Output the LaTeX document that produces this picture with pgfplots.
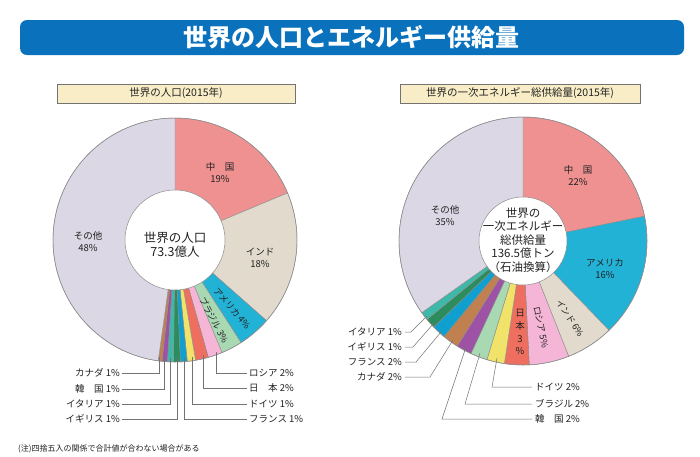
\documentclass[border=0pt]{standalone}
\usepackage{pgfplots}
\pgfplotsset{compat=1.18}
\usepackage{pgfplotstable}
\usepackage{fontspec}
\setmainfont{Noto Sans CJK JP}

\definecolor{cChina}{HTML}{F09191}
\definecolor{cIndia}{HTML}{E2DBCD}
\definecolor{cUSA}{HTML}{22B2D6}
\definecolor{cBrazil}{HTML}{A9D9B3}
\definecolor{cRussia}{HTML}{F5B5D6}
\definecolor{cJapan}{HTML}{EE6F5F}
\definecolor{cGermany}{HTML}{F1E26A}
\definecolor{cFrance}{HTML}{0FA0D0}
\definecolor{cUK}{HTML}{2C8C5E}
\definecolor{cItaly}{HTML}{3DB9A9}
\definecolor{cKorea}{HTML}{9E52A6}
\definecolor{cCanada}{HTML}{C0804F}
\definecolor{cOther}{HTML}{DCD7E5}
\definecolor{cBanner}{HTML}{0A72BD}
\definecolor{cBox}{HTML}{F8EDC6}
\definecolor{cText}{HTML}{222222}

% population share 2015 (%), clockwise from top
\pgfplotstableread{
value color
18.7 cChina
17.8 cIndia
4.4 cUSA
2.8 cBrazil
1.9 cRussia
1.7 cJapan
1.1 cGermany
0.9 cFrance
0.9 cUK
0.8 cItaly
0.7 cKorea
0.5 cCanada
47.8 cOther
}\poptable

% primary energy supply share 2015 (%), clockwise from top
\pgfplotstableread{
value color
21.8 cChina
16.0 cUSA
6.2 cIndia
5.2 cRussia
3.2 cJapan
2.3 cGermany
2.2 cBrazil
2.0 cKorea
2.1 cCanada
1.8 cFrance
1.3 cUK
1.1 cItaly
34.8 cOther
}\energytable

\newcommand\donut[5]{%
  \pgfplotstablegetrowsof{#1}%
  \pgfmathtruncatemacro\lastrow{\pgfplotsretval-1}%
  \gdef\startang{90}%
  \foreach \i in {0,...,\lastrow}{%
    \pgfplotstablegetelem{\i}{value}\of{#1}\let\val\pgfplotsretval
    \pgfplotstablegetelem{\i}{color}\of{#1}\let\col\pgfplotsretval
    \pgfmathsetmacro\endang{\startang-3.6*\val}%
    \filldraw[fill=\col, draw=black!45, line width=0.4pt] (axis cs:#2,#3) -- ++(\startang:#4pt) arc[start angle=\startang, end angle=\endang, radius=#4pt] -- cycle;
    \xdef\startang{\endang}%
  }%
  \draw[black!45, line width=0.5pt] (axis cs:#2,#3) circle[radius=#4pt];
  \filldraw[fill=white, draw=black!45, line width=0.5pt] (axis cs:#2,#3) circle[radius=#5pt];
}

\begin{document}
\begin{tikzpicture}
\begin{axis}[x=1pt, y=1pt, y dir=reverse, xmin=0, xmax=700, ymin=0, ymax=456,
  hide axis, clip=false, scale only axis]
\pgfplotsextra{
  \fill[white] (axis cs:0,0) rectangle (axis cs:700,456);
  % banner
  \fill[cBanner, rounded corners=7pt] (axis cs:20,20) rectangle (axis cs:684,55);
  \node[text=white, font=\fontsize{24}{27}\selectfont\bfseries] at (axis cs:351,37.5) {世界の人口とエネルギー供給量};
  % sub titles
  \filldraw[fill=cBox, draw=black!55, line width=0.6pt] (axis cs:57,84) rectangle (axis cs:295,103);
  \node[text=cText, font=\fontsize{10.5}{12}\selectfont] at (axis cs:176,93.5) {世界の人口(2015年)};
  \filldraw[fill=cBox, draw=black!55, line width=0.6pt] (axis cs:400,84) rectangle (axis cs:640,103);
  \node[text=cText, font=\fontsize{10.5}{12}\selectfont] at (axis cs:520,93.5) {世界の一次エネルギー総供給量(2015年)};
  % donuts
  \donut{\poptable}{175}{240}{122}{50}
  \donut{\energytable}{523}{241}{124}{44}
  % footnote
  \node[anchor=west, inner sep=0pt, text=cText, font=\fontsize{8}{10}\selectfont] at (axis cs:18,449) {(注)四捨五入の関係で合計値が合わない場合がある};
}
% ---------- left pie labels
\pgfplotsextra{
  \begin{scope}[every node/.style={text=cText, font=\fontsize{9.5}{12}\selectfont, align=center}]
  \node at (axis cs:220,173) {中　国\\19\%};
  \node at (axis cs:260,258) {インド\\18\%};
  \node at (axis cs:88,242) {その他\\48\%};
  \node[font=\fontsize{12.5}{14}\selectfont] at (axis cs:175,245) {世界の人口\\73.3億人};
  \node[rotate=-49, font=\fontsize{9}{11}\selectfont, inner sep=0pt] at (axis cs:232,308) {アメリカ 4\%};
  \node[rotate=-62, font=\fontsize{9}{11}\selectfont, inner sep=0pt] at (axis cs:214,320) {ブラジル 3\%};
  \end{scope}
  \begin{scope}[every node/.style={text=cText, font=\fontsize{9.5}{11}\selectfont, inner sep=0pt}]
  \draw[black!55, line width=0.5pt] (axis cs:122,373) -- (axis cs:159,373) -- (axis cs:159,357);
  \draw[black!55, line width=0.5pt] (axis cs:122,389) -- (axis cs:164,389) -- (axis cs:164,358);
  \draw[black!55, line width=0.5pt] (axis cs:122,404) -- (axis cs:170,404) -- (axis cs:170,358);
  \draw[black!55, line width=0.5pt] (axis cs:122,419) -- (axis cs:177,419) -- (axis cs:177,358);
  \node[anchor=east] at (axis cs:120,373) {カナダ 1\%};
  \node[anchor=east] at (axis cs:120,389) {韓　国 1\%};
  \node[anchor=east] at (axis cs:120,404) {イタリア 1\%};
  \node[anchor=east] at (axis cs:120,419) {イギリス 1\%};
  \draw[black!55, line width=0.5pt] (axis cs:247,373) -- (axis cs:216,373) -- (axis cs:216,352);
  \draw[black!55, line width=0.5pt] (axis cs:247,388) -- (axis cs:203,388) -- (axis cs:203,355);
  \draw[black!55, line width=0.5pt] (axis cs:247,404) -- (axis cs:192,404) -- (axis cs:192,357);
  \draw[black!55, line width=0.5pt] (axis cs:247,419) -- (axis cs:184,419) -- (axis cs:184,358);
  \node[anchor=west] at (axis cs:249,373) {ロシア 2\%};
  \node[anchor=west] at (axis cs:249,388) {日　本 2\%};
  \node[anchor=west] at (axis cs:249,404) {ドイツ 1\%};
  \node[anchor=west] at (axis cs:249,419) {フランス 1\%};
  \end{scope}
}
% ---------- right pie labels
\pgfplotsextra{
  \begin{scope}[every node/.style={text=cText, font=\fontsize{9.5}{12}\selectfont, align=center}]
  \node at (axis cs:578,176) {中　国\\22\%};
  \node at (axis cs:605,269) {アメリカ\\16\%};
  \node at (axis cs:445,216) {その他\\35\%};
  \node[font=\fontsize{11.5}{13.5}\selectfont] at (axis cs:523,240) {世界の\\一次エネルギー\\総供給量\\136.5億トン\\（石油換算）};
  \node[rotate=-57, font=\fontsize{9}{11}\selectfont, inner sep=0pt] at (axis cs:570,318) {インド 6\%};
  \node[rotate=-78, font=\fontsize{9}{11}\selectfont, inner sep=0pt] at (axis cs:541,327) {ロシア 5\%};
  \node[font=\fontsize{9.5}{12.8}\selectfont, inner sep=0pt] at (axis cs:520,332) {日\\本\\3\\\%};
  \end{scope}
  \begin{scope}[every node/.style={text=cText, font=\fontsize{9.5}{11}\selectfont, inner sep=0pt}]
  \draw[black!55, line width=0.5pt] (axis cs:405,332) -- (axis cs:411,332) -- (axis cs:427,316);
  \draw[black!55, line width=0.5pt] (axis cs:405,347) -- (axis cs:413,347) -- (axis cs:434,323);
  \draw[black!55, line width=0.5pt] (axis cs:405,362) -- (axis cs:416,362) -- (axis cs:441,332);
  \draw[black!55, line width=0.5pt] (axis cs:405,377) -- (axis cs:430,377) -- (axis cs:453,340);
  \node[anchor=east] at (axis cs:402,332) {イタリア 1\%};
  \node[anchor=east] at (axis cs:402,347) {イギリス 1\%};
  \node[anchor=east] at (axis cs:402,362) {フランス 2\%};
  \node[anchor=east] at (axis cs:402,377) {カナダ 2\%};
  \draw[black!55, line width=0.5pt] (axis cs:532,387) -- (axis cs:492,387) -- (axis cs:497,358);
  \draw[black!55, line width=0.5pt] (axis cs:532,404) -- (axis cs:465,404) -- (axis cs:480,353);
  \draw[black!55, line width=0.5pt] (axis cs:532,419) -- (axis cs:442,419) -- (axis cs:466,347);
  \node[anchor=west] at (axis cs:535,387) {ドイツ 2\%};
  \node[anchor=west] at (axis cs:535,404) {ブラジル 2\%};
  \node[anchor=west] at (axis cs:535,419) {韓　国 2\%};
  \end{scope}
}
\end{axis}
\end{tikzpicture}
\end{document}
